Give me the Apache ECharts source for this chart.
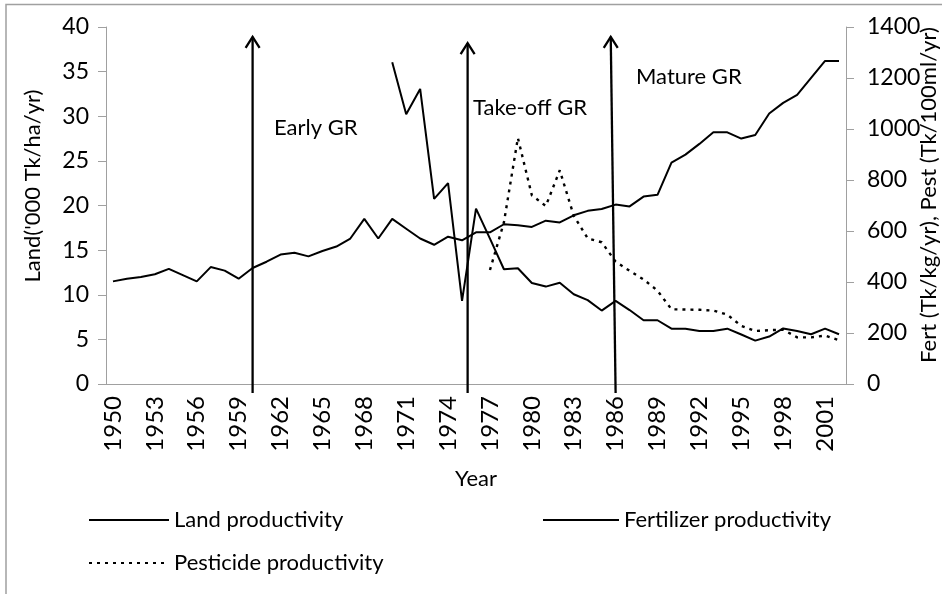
<!DOCTYPE html>
<html>
<head>
<meta charset="utf-8">
<script src="https://cdn.jsdelivr.net/npm/echarts@6/dist/echarts.min.js"></script>
<style>
  html, body { margin: 0; padding: 0; background: #fff; }
  #chart { width: 942px; height: 594px; }
</style>
</head>
<body>
<div id="chart"></div>
<script>
const years = ['1950','1951','1952','1953','1954','1955','1956','1957','1958','1959',
  '1960','1961','1962','1963','1964','1965','1966','1967','1968','1969',
  '1970','1971','1972','1973','1974','1975','1976','1977','1978','1979',
  '1980','1981','1982','1983','1984','1985','1986','1987','1988','1989',
  '1990','1991','1992','1993','1994','1995','1996','1997','1998','1999',
  '2000','2001','2002'];

// '000 Tk/ha/yr, 1950-2002
const land = [11.5, 11.8, 12.0, 12.3, 12.9, 12.2, 11.5, 13.1, 12.7, 11.8,
  13.0, 13.7, 14.5, 14.7, 14.3, 14.9, 15.4, 16.3, 18.5, 16.3,
  18.5, 17.4, 16.3, 15.6, 16.5, 16.1, 17.0, 17.0, 17.9, 17.8,
  17.6, 18.3, 18.1, 18.9, 19.4, 19.6, 20.1, 19.9, 21.0, 21.2,
  24.8, 25.7, 26.9, 28.2, 28.2, 27.5, 27.9, 30.3, 31.5, 32.4,
  34.3, 36.2, 36.2];

// Tk/kg/yr, 1970-2002
const fertStart = '1970';
const fert = [1262, 1058, 1157, 726, 788, 326, 688, 570, 450, 454,
  396, 382, 397, 352, 329, 288, 326, 290, 250, 250,
  217, 217, 208, 208, 217, 194, 170, 186, 218, 208,
  195, 217, 195];

// Tk/100ml/yr, 1977-2002
const pestStart = '1977';
const pest = [447, 634, 965, 740, 698, 838, 660, 571, 556, 480,
  444, 410, 366, 293, 292, 291, 288, 272, 228, 208,
  211, 213, 183, 183, 190, 172];

const leftTicks = { min: 0, max: 40, interval: 5 };
const rightTicks = { min: 0, max: 1400, interval: 200 };

// phase arrows: [year at base, year at tip, tip value on left axis]
const arrows = [[1960, 1960, 38.9], [1975.4, 1975.4, 38.2], [1986, 1985.65, 38.9]];
const arrowBase = -1.0;
const phases = ['Early GR', 'Take-off GR', 'Mature GR'];

const pad = (start, vals) => years.map((y, i) => {
  const k = i - years.indexOf(start);
  return k >= 0 && k < vals.length ? vals[k] : null;
});

const FONT = 'Lato, "Open Sans", sans-serif';
const axisGray = '#a0a0a0';
const noMarker = { color: 'rgba(0,0,0,0)', borderColor: 'rgba(0,0,0,0)', borderWidth: 0 };
const legendText = { fontSize: 22, lineHeight: 22, fontFamily: FONT, color: '#000' };

const chart = echarts.init(document.getElementById('chart'));

chart.setOption({
  animation: false,
  textStyle: { fontFamily: FONT, color: '#000' },
  grid: { left: 106, right: 96, top: 27, height: 357, containLabel: false },
  xAxis: [
    {
      type: 'category',
      data: years,
      boundaryGap: true,
      name: 'Year',
      nameLocation: 'middle',
      nameGap: 84,
      nameTextStyle: { fontSize: 22, fontFamily: FONT, color: '#000' },
      axisLine: { lineStyle: { color: axisGray } },
      axisTick: { interval: 1, length: 8, lineStyle: { color: axisGray } },
      axisLabel: { interval: 2, rotate: 90, margin: 12, fontSize: 24, color: '#000', fontFamily: FONT },
      splitLine: { show: false }
    },
    { type: 'value', min: 1949.5, max: 2002.5, show: false }
  ],
  yAxis: [
    {
      type: 'value',
      min: leftTicks.min, max: leftTicks.max, interval: leftTicks.interval,
      axisLine: { show: true, lineStyle: { color: axisGray } },
      axisTick: { show: true, length: 8, lineStyle: { color: axisGray } },
      axisLabel: { fontSize: 23, color: '#000', margin: 17, fontFamily: FONT },
      splitLine: { show: false }
    },
    {
      type: 'value',
      position: 'right',
      min: rightTicks.min, max: rightTicks.max, interval: rightTicks.interval,
      axisLine: { show: true, lineStyle: { color: axisGray } },
      axisTick: { show: true, length: 8, lineStyle: { color: axisGray } },
      axisLabel: { fontSize: 23, color: '#000', margin: 21, fontFamily: FONT, formatter: v => String(v) },
      splitLine: { show: false }
    }
  ],
  legend: [
    {
      data: ['Land productivity'], left: 83, top: 504,
      itemWidth: 80, itemHeight: 22, itemGap: 0, itemStyle: noMarker,
      textStyle: legendText
    },
    {
      data: ['Fertilizer productivity'], left: 537, top: 504,
      itemWidth: 76, itemHeight: 22, itemGap: 0, itemStyle: noMarker,
      textStyle: legendText
    },
    {
      data: ['Pesticide productivity'], left: 83, top: 547,
      itemWidth: 80, itemHeight: 22, itemGap: 0, itemStyle: noMarker,
      textStyle: legendText
    }
  ],
  series: [
    {
      name: 'Land productivity', type: 'line', data: land,
      symbol: 'none', lineStyle: { color: '#000', width: 2 }, itemStyle: { color: '#000' }
    },
    {
      name: 'Fertilizer productivity', type: 'line', yAxisIndex: 1, data: pad(fertStart, fert),
      symbol: 'none', lineStyle: { color: '#000', width: 2 }, itemStyle: { color: '#000' }
    },
    {
      name: 'Pesticide productivity', type: 'line', yAxisIndex: 1, data: pad(pestStart, pest),
      symbol: 'none', lineStyle: { color: '#000', width: 2.4, type: [3, 5] }, itemStyle: { color: '#000' }
    },
    {
      name: 'phases', type: 'custom', xAxisIndex: 1, yAxisIndex: 0,
      clip: false, z: 5, silent: true,
      encode: { x: [0, 1], y: 2 },
      data: arrows,
      renderItem: (params, api) => {
        const b = api.coord([api.value(0), arrowBase]);
        const t = api.coord([api.value(1), api.value(2)]);
        const st = { stroke: '#000', fill: null, lineWidth: 2.3 };
        return {
          type: 'group',
          children: [
            { type: 'line', shape: { x1: b[0], y1: b[1], x2: t[0], y2: t[1] }, style: st },
            { type: 'polyline', shape: { points: [[t[0] - 7, t[1] + 11], [t[0], t[1]], [t[0] + 7, t[1] + 11]] }, style: st }
          ]
        };
      }
    }
  ],
  graphic: [
    { type: 'rect', shape: { x: 6, y: 4.5, width: 1000, height: 1000 }, style: { fill: null, stroke: '#a0a0a0', lineWidth: 1.5 }, z: -1 },
    { type: 'text', x: 274, y: 128, style: { text: phases[0], fontSize: 22, fontFamily: FONT, fill: '#000', verticalAlign: 'middle' } },
    { type: 'text', x: 473, y: 108, style: { text: phases[1], fontSize: 22, fontFamily: FONT, fill: '#000', verticalAlign: 'middle' } },
    { type: 'text', x: 636, y: 77, style: { text: phases[2], fontSize: 22, fontFamily: FONT, fill: '#000', verticalAlign: 'middle' } },
    { type: 'text', x: 33, y: 186, rotation: Math.PI / 2, style: { text: "Land('000 Tk/ha/yr)", fontSize: 22, fontFamily: FONT, fill: '#000', align: 'center', verticalAlign: 'middle' } },
    { type: 'text', x: 929, y: 195, rotation: Math.PI / 2, style: { text: 'Fert (Tk/kg/yr), Pest (Tk/100ml/yr)', fontSize: 22, fontFamily: FONT, fill: '#000', align: 'center', verticalAlign: 'middle' } }
  ]
});
</script>
</body>
</html>
